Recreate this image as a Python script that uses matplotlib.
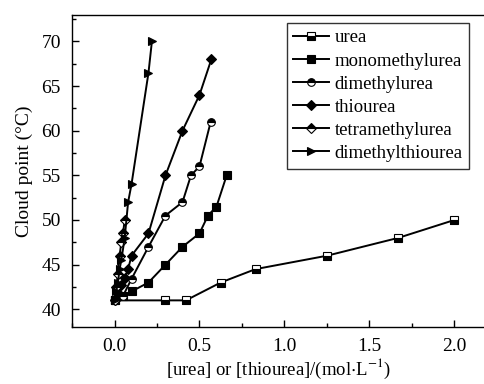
import matplotlib
matplotlib.use('Agg')
import matplotlib.pyplot as plt
from matplotlib.ticker import MultipleLocator

plt.rcParams['font.family'] = ['Liberation Serif', 'DejaVu Serif']
plt.rcParams['mathtext.fontset'] = 'stix'

# 數據
urea_x = [0, 0.3, 0.42, 0.625, 0.83, 1.25, 1.67, 2.0]
urea_y = [41, 41, 41, 43, 44.5, 46, 48, 50]

mono_x = [0, 0.05, 0.1, 0.2, 0.3, 0.4, 0.5, 0.55, 0.6, 0.66]
mono_y = [41, 41.5, 42, 43, 45, 47, 48.5, 50.5, 51.5, 55]

dime_x = [0, 0.05, 0.1, 0.2, 0.3, 0.4, 0.45, 0.5, 0.566]
dime_y = [41, 41.5, 43.4, 47, 50.5, 52, 55, 56, 61]

thio_x = [0, 0.02, 0.04, 0.06, 0.08, 0.1, 0.2, 0.3, 0.4, 0.5, 0.57]
thio_y = [41, 41.8, 42.7, 43.5, 44.5, 46, 48.5, 55, 60, 64, 68]

tetra_x = [0, 0.01, 0.02, 0.03, 0.04, 0.05, 0.06]
tetra_y = [41, 42.5, 44, 46, 47.5, 48.5, 50]

dmt_x = [0, 0.01, 0.02, 0.03, 0.04, 0.06, 0.08, 0.1, 0.2, 0.22]
dmt_y = [41, 42, 43, 44.5, 45.5, 48, 52, 54, 66.5, 70]

fig = plt.figure(figsize=(4.85, 3.84), dpi=100)
ax = fig.add_axes([0.1485, 0.148, 0.8515, 0.814])

kw = dict(color='black', linewidth=1.4, markersize=5.5, markeredgewidth=0.8,
          markeredgecolor='black')
ax.plot(urea_x, urea_y, marker='s', fillstyle='bottom', markerfacecolor='black',
        markerfacecoloralt='white', label='urea', **kw)
ax.plot(mono_x, mono_y, marker='s', markerfacecolor='black',
        label='monomethylurea', **kw)
ax.plot(dime_x, dime_y, marker='o', fillstyle='top', markerfacecolor='black',
        markerfacecoloralt='white', label='dimethylurea', **kw)
ax.plot(thio_x, thio_y, marker='D', markerfacecolor='black', label='thiourea',
        **{**kw, 'markersize': 5})
ax.plot(tetra_x, tetra_y, marker='D', fillstyle='top', markerfacecolor='black',
        markerfacecoloralt='white', label='tetramethylurea',
        **{**kw, 'markersize': 5})
ax.plot(dmt_x, dmt_y, marker='>', markerfacecolor='black',
        label='dimethylthiourea', **kw)

ax.set_xlim(-0.25, 2.18)
ax.set_ylim(38, 73)
ax.xaxis.set_major_locator(MultipleLocator(0.5))
ax.xaxis.set_minor_locator(MultipleLocator(0.25))
ax.yaxis.set_major_locator(MultipleLocator(5))
ax.yaxis.set_minor_locator(MultipleLocator(2.5))
ax.tick_params(which='both', direction='in', top=False, right=False,
               labelsize=14, width=1)
ax.tick_params(which='major', length=5, pad=8)
ax.tick_params(which='minor', length=3)
ax.spines['right'].set_visible(False)
for s in ['left', 'bottom', 'top']:
    ax.spines[s].set_linewidth(1)

ax.set_xlabel(r'[urea] or [thiourea]/(mol$\cdot$L$^{-1}$)', fontsize=13.5,
              labelpad=1)
ax.set_ylabel('Cloud point (°C)', fontsize=14, labelpad=6)

leg = ax.legend(loc='upper right', bbox_to_anchor=(0.962, 0.974), fontsize=13.5,
                frameon=True, fancybox=False, handlelength=1.9,
                borderpad=0.35, labelspacing=0.32, handletextpad=0.3,
                borderaxespad=0)
leg.get_frame().set_edgecolor('black')
leg.get_frame().set_linewidth(1)

plt.savefig('out.png', dpi=100)
plt.close()
